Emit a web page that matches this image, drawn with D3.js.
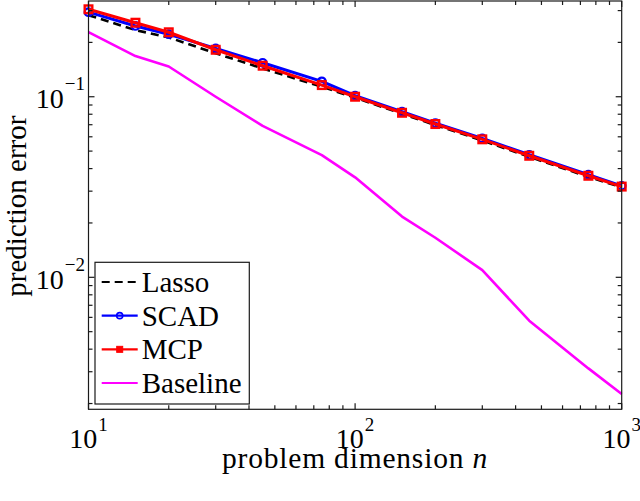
<!DOCTYPE html>
<html>
<head>
<meta charset="utf-8">
<script src="https://cdn.jsdelivr.net/npm/d3@7"></script>
<style>
  html, body { margin: 0; padding: 0; background: #fff; }
  svg { display: block; font-family: "Liberation Serif", "Times New Roman", serif; }
</style>
</head>
<body>
<svg id="chart" width="640" height="501"></svg>
<script>
// ---- data ----
const nValues   = [10, 15, 20, 30, 45, 75, 100, 150, 200, 300, 450, 750, 1000];
const lassoErr  = [0.283, 0.234, 0.213, 0.174, 0.1435, 0.1136, 0.0988, 0.0805, 0.0697, 0.0573, 0.0465, 0.0360, 0.0315];
const scadErr   = [0.294, 0.2466, 0.222, 0.1853, 0.1542, 0.1217, 0.1013, 0.0826, 0.0715, 0.0588, 0.0477, 0.0370, 0.0321];
const mcpErr    = [0.305, 0.257, 0.2275, 0.182, 0.1485, 0.116, 0.100, 0.0815, 0.0706, 0.0581, 0.0471, 0.0365, 0.0318];
const baseErr   = [0.228, 0.168, 0.147, 0.100, 0.0689, 0.0475, 0.0358, 0.0217, 0.01656, 0.01096, 0.00575, 0.00313, 0.00226];
const seriesNames = ["Lasso", "SCAD", "MCP", "Baseline"];
const xTickExps = [1, 2, 3];
const yTickExps = [-1, -2];
const xLabel = "problem dimension ";
const xLabelVar = "n";
const yLabel = "prediction error";

// ---- layout ----
const svg = d3.select("#chart");
const L = 88.5, R = 621.7, T = 1, B = 409.3;
const x = d3.scaleLog().domain([10, 1000]).range([L, R]);
const y = d3.scaleLog().domain([0.001858, 0.339]).range([B, T]);

const series = [
  { name: seriesNames[0], vals: lassoErr, color: "#000000", width: 2.6, dash: "8,5", marker: null },
  { name: seriesNames[1], vals: scadErr,  color: "#0000ff", width: 3,   dash: null, marker: "circle" },
  { name: seriesNames[2], vals: mcpErr,   color: "#ff0000", width: 3,   dash: null, marker: "square" },
  { name: seriesNames[3], vals: baseErr,  color: "#ff00ff", width: 2.6, dash: null, marker: null }
];

svg.append("defs").append("clipPath").attr("id", "plotclip")
  .append("rect").attr("x", L - 6).attr("y", T - 6).attr("width", R - L + 12).attr("height", B - T + 12);

const plot = svg.append("g").attr("clip-path", "url(#plotclip)");
const line = d3.line().x(d => x(d[0])).y(d => y(d[1]));

series.forEach(s => {
  const pts = nValues.map((n, i) => [n, s.vals[i]]);
  plot.append("path")
    .datum(pts)
    .attr("d", line)
    .attr("fill", "none")
    .attr("stroke", s.color)
    .attr("stroke-width", s.width)
    .attr("stroke-linejoin", "round")
    .attr("stroke-dasharray", s.dash);
  if (s.marker === "circle") {
    plot.selectAll(null).data(pts).enter().append("circle")
      .attr("cx", d => x(d[0])).attr("cy", d => y(d[1])).attr("r", 3.8)
      .attr("fill", "none").attr("stroke", s.color).attr("stroke-width", 2.2);
  } else if (s.marker === "square") {
    const h = 3.8;
    plot.selectAll(null).data(pts).enter().append("rect")
      .attr("x", d => x(d[0]) - h).attr("y", d => y(d[1]) - h)
      .attr("width", 2 * h).attr("height", 2 * h)
      .attr("fill", "none").attr("stroke", s.color).attr("stroke-width", 2.4);
  }
});

// ---- axes box with inward ticks on all sides ----
const axisColor = "#1a1a1a";
const ax = svg.append("g").attr("stroke", axisColor).attr("stroke-width", 1.2).attr("fill", "none");
ax.append("rect").attr("x", L).attr("y", T).attr("width", R - L).attr("height", B - T);

function minorTicks(scale) {
  const [a, b] = scale.domain();
  const out = [];
  for (let e = Math.floor(Math.log10(a)); e <= Math.ceil(Math.log10(b)); e++) {
    for (let m = 1; m <= 9; m++) {
      const v = m * Math.pow(10, e);
      if (v >= a * 0.9999 && v <= b * 1.0001) out.push({ v, major: m === 1 });
    }
  }
  return out;
}
const majorLen = 6, minorLen = 4;
minorTicks(x).forEach(t => {
  const px = x(t.v), len = t.major ? majorLen : minorLen;
  ax.append("line").attr("x1", px).attr("x2", px).attr("y1", B).attr("y2", B - len);
  ax.append("line").attr("x1", px).attr("x2", px).attr("y1", T).attr("y2", T + len);
});
minorTicks(y).forEach(t => {
  const py = y(t.v), len = t.major ? majorLen : minorLen;
  ax.append("line").attr("x1", L).attr("x2", L + len).attr("y1", py).attr("y2", py);
  ax.append("line").attr("x1", R).attr("x2", R - len).attr("y1", py).attr("y2", py);
});

// ---- tick labels ----
const tl = svg.append("g").attr("fill", "#000");
xTickExps.forEach(e => {
  const t = tl.append("text").attr("x", x(Math.pow(10, e))).attr("y", 448)
    .attr("text-anchor", "middle").attr("font-size", 28);
  t.append("tspan").text("10");
  t.append("tspan").attr("dy", -17).attr("dx", 1).attr("font-size", 19).text(String(e));
});
yTickExps.forEach(e => {
  const t = tl.append("text").attr("x", 85).attr("y", y(Math.pow(10, e)) + 11.5)
    .attr("text-anchor", "end").attr("font-size", 28);
  t.append("tspan").text("10");
  t.append("tspan").attr("dy", -18).attr("dx", 1).attr("font-size", 19).text("\u2212" + Math.abs(e));
});

// ---- axis labels ----
const xl = svg.append("text").attr("x", 355).attr("y", 468).attr("text-anchor", "middle")
  .attr("font-size", 29.5).attr("letter-spacing", 0.8).attr("fill", "#000");
xl.append("tspan").text(xLabel);
xl.append("tspan").attr("font-style", "italic").text(xLabelVar);

svg.append("text").attr("transform", `translate(26,${(T + B) / 2 + 1}) rotate(-90)`)
  .attr("text-anchor", "middle").attr("font-size", 29).attr("fill", "#000").text(yLabel);

// ---- legend ----
const lg = svg.append("g");
lg.append("rect").attr("x", 95).attr("y", 262.3).attr("width", 154.3).attr("height", 141.7)
  .attr("fill", "#fff").attr("stroke", axisColor).attr("stroke-width", 1.2);
const rowY = d3.scalePoint().domain(seriesNames).range([282, 383]);
series.forEach(s => {
  const yy = rowY(s.name);
  lg.append("line").attr("x1", 101.7).attr("x2", 137.7).attr("y1", yy).attr("y2", yy)
    .attr("stroke", s.color).attr("stroke-width", 2.2).attr("stroke-dasharray", s.dash);
  if (s.marker === "circle") {
    lg.append("circle").attr("cx", 119.7).attr("cy", yy).attr("r", 3)
      .attr("fill", "none").attr("stroke", s.color).attr("stroke-width", 1.6);
  } else if (s.marker === "square") {
    lg.append("rect").attr("x", 116.7).attr("y", yy - 3).attr("width", 6).attr("height", 6)
      .attr("fill", s.color).attr("stroke", s.color).attr("stroke-width", 1);
  }
  lg.append("text").attr("x", 141.7).attr("y", yy + 10).attr("font-size", 29).attr("fill", "#000").text(s.name);
});
</script>
</body>
</html>
